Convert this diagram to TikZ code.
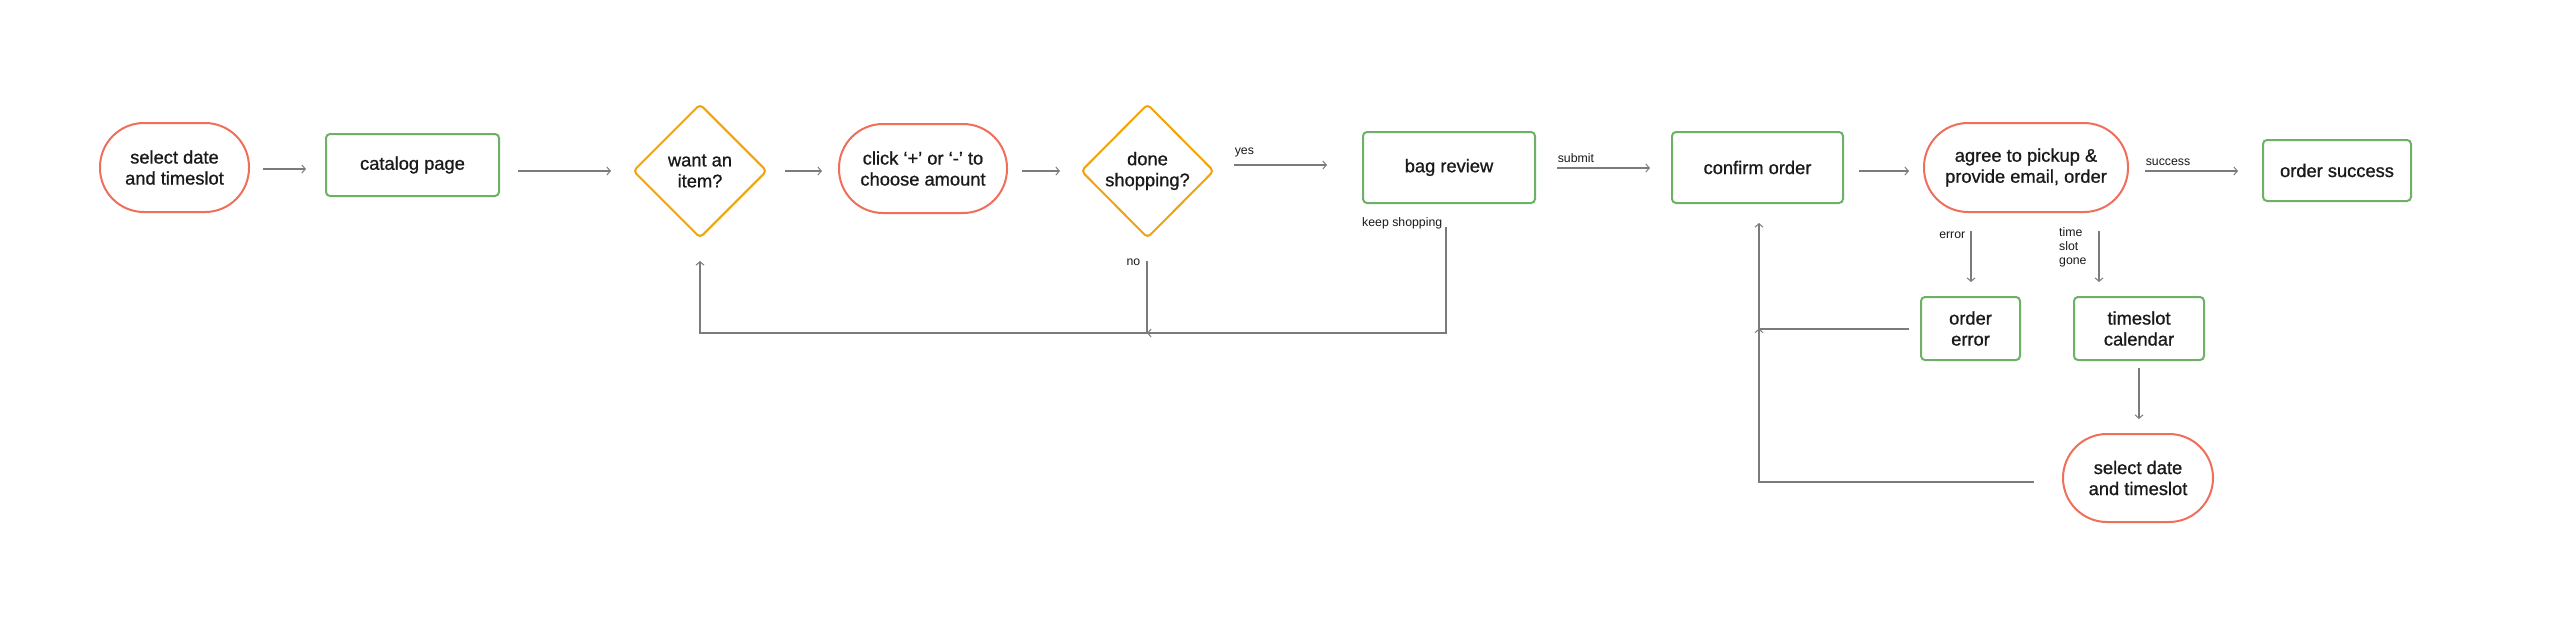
\documentclass[tikz,border=0pt]{standalone}
\usepackage{fontspec}
\setmainfont{Liberation Sans}
\newfontfamily\medfont[FakeBold=0.9]{Liberation Sans}
\usetikzlibrary{shapes.geometric,arrows.meta}
\definecolor{pillred}{HTML}{EF6F5A}
\definecolor{boxgreen}{HTML}{6DB066}
\definecolor{diaorange}{HTML}{F0A30A}
\definecolor{linegray}{HTML}{7B7B7B}
\definecolor{txt}{HTML}{1A1A1A}
\begin{document}
\begin{tikzpicture}[x=1pt,y=-1pt,
 every node/.style={text=txt},
 maintext/.style={font=\medfont\fontsize{18.3}{21}\selectfont, align=center},
 pill/.style={maintext, draw=pillred, line width=2pt, rounded corners=44pt, minimum height=89pt, inner sep=0pt},
 gbox/.style={maintext, draw=boxgreen, line width=2pt, rounded corners=4pt, inner sep=0pt},
 dia/.style={maintext, draw=diaorange, line width=2pt, diamond, rounded corners=4pt, minimum width=134pt, minimum height=134pt, inner sep=0pt},
 arr/.style={draw=linegray, line width=1.5pt, -{Straight Barb[length=3.5pt,width=8pt,line width=1pt]}},
 lbl/.style={font=\fontsize{12.3}{14}\selectfont, inner sep=0pt, text=txt}
]
\fill[white] (0,0) rectangle (2566,630);
\useasboundingbox (0,0) rectangle (2566,630);

% nodes
\node[pill, minimum width=149pt] (p1) at (174.5,167.5) {select date\\and timeslot};
\node[gbox, minimum width=173pt, minimum height=62pt] (cat) at (412.5,165) {catalog page};
\node[dia] (d1) at (700,171) {want an\\item?};
\node[pill, minimum width=168pt] (p2) at (923,168.5) {click ‘+’ or ‘-’ to\\choose amount};
\node[dia, minimum width=133pt] (d2) at (1147.5,171) {done\\shopping?};
\node[gbox, minimum width=172pt, minimum height=71pt] (bag) at (1449,167.5) {bag review};
\node[gbox, minimum width=171pt, minimum height=71pt] (conf) at (1757.5,167.5) {confirm order};
\node[pill, minimum width=204pt] (p3) at (2026,167.5) {agree to pickup \&\\provide email, order};
\node[gbox, minimum width=148pt, minimum height=61pt] (succ) at (2337,170.5) {order success};
\node[gbox, minimum width=99pt, minimum height=63pt] (oerr) at (1970.5,328.5) {order\\error};
\node[gbox, minimum width=130pt, minimum height=63pt] (cal) at (2139,328.5) {timeslot\\calendar};
\node[pill, minimum width=150pt, minimum height=88pt] (p4) at (2138,478) {select date\\and timeslot};

% main row connectors
\draw[arr] ([shift={(13,1.5)}]p1.east) -- ([shift={(-19,4)}]cat.west);
\draw[arr] ([shift={(18,6)}]cat.east) -- ([shift={(-21,0)}]d1.west);
\draw[arr] ([shift={(17,0)}]d1.east) -- ([shift={(-16,2.5)}]p2.west);
\draw[arr] ([shift={(14,2.5)}]p2.east) -- ([shift={(-20,0)}]d2.west);
\draw[arr] ([shift={(19,-6)}]d2.east) -- ([shift={(-35,-2.5)}]bag.west)
  node[lbl, pos=0, anchor=base west, yshift=11pt] {yes};
\draw[arr] ([shift={(21,0.5)}]bag.east) -- ([shift={(-21,0.5)}]conf.west)
  node[lbl, pos=0, anchor=base west, yshift=6pt] {submit};
\draw[arr] ([shift={(15,3.5)}]conf.east) -- ([shift={(-14,3.5)}]p3.west);
\draw[arr] ([shift={(16,3.5)}]p3.east) -- ([shift={(-24,0.5)}]succ.west)
  node[lbl, pos=0, anchor=base west, yshift=6pt] {success};

% down from agree
\draw[arr] ([shift={(-55,18)}]p3.south) -- ([shift={(0.5,-14)}]oerr.north)
  node[lbl, pos=0, anchor=base east, xshift=-5pt, yshift=-7pt] {error};
\draw[arr] ([shift={(73,18)}]p3.south) -- ([shift={(-40,-14)}]cal.north);
\node[lbl, anchor=north west, align=left] (tsg) at (2059,227.5) {time\\slot\\gone};
\draw[arr] ([shift={(0,7)}]cal.south) -- ([shift={(1,-14)}]p4.north);

% return loops to confirm order
\draw[arr] ([shift={(-28,4)}]p4.west) -| ([shift={(1.5,19)}]conf.south);
\draw[arr] ([shift={(-11,0.5)}]oerr.west) -| ([shift={(1.5,124.5)}]conf.south);

% shopping loops
\coordinate (loopy) at ([shift={(-0.5,94)}]d2.south);
\draw[arr] ([shift={(-0.5,22)}]d2.south) -- (loopy) -| ([shift={(0,22)}]d1.south);
\node[lbl, anchor=base east] (nolbl) at ([shift={(-7,26)}]d2.south) {no};
\draw[arr] ([shift={(-3,23)}]bag.south) |- (loopy);
\node[lbl, anchor=base west] (kslbl) at ([shift={(0,22)}]bag.south west) {keep shopping};
\end{tikzpicture}
\end{document}
